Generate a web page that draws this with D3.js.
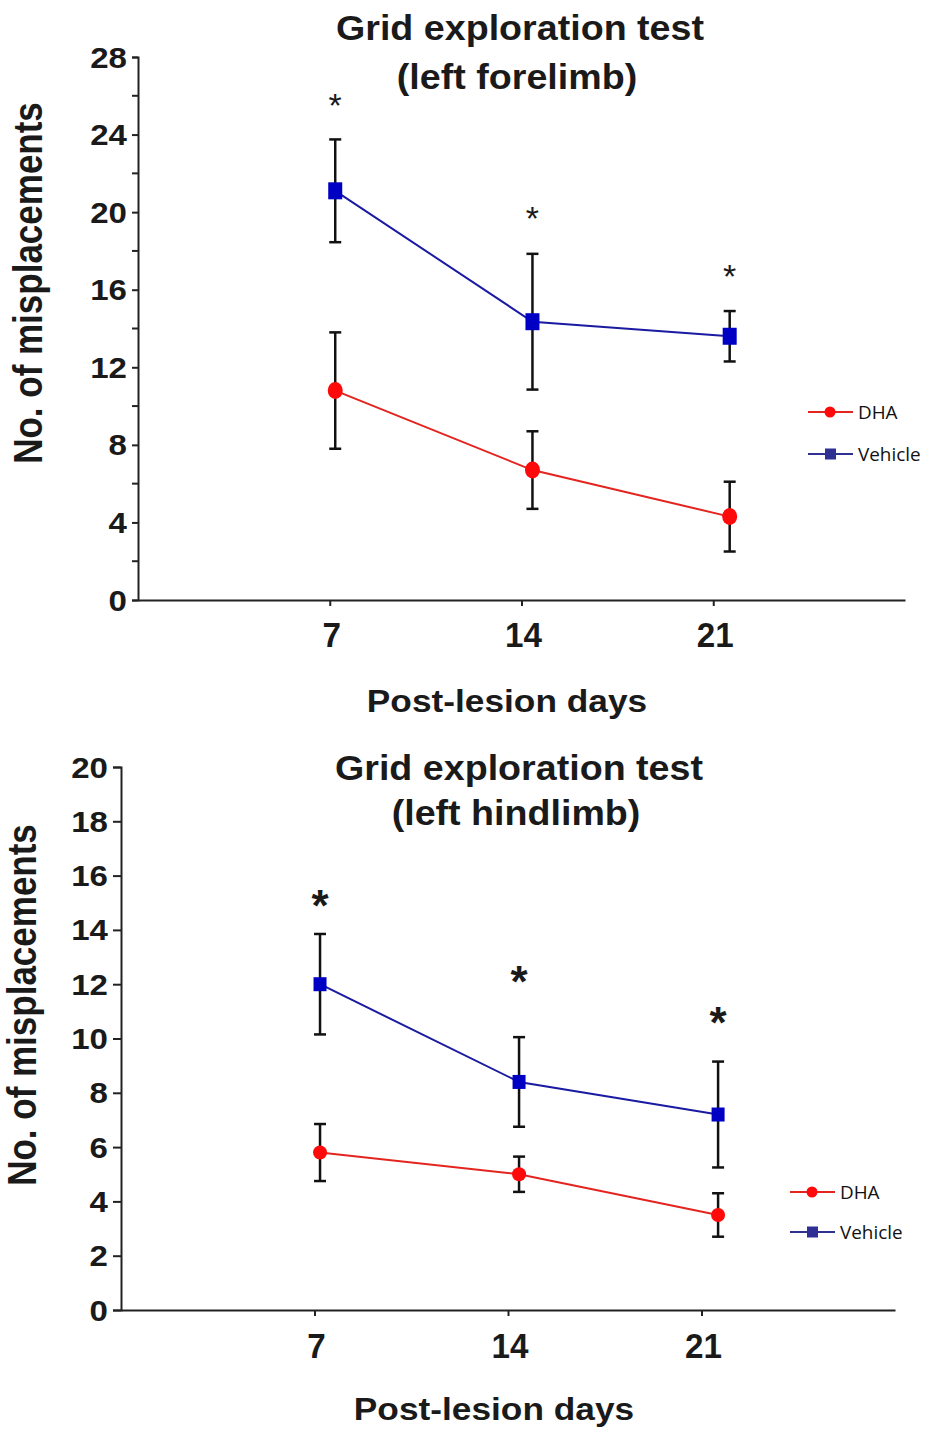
<!DOCTYPE html>
<html>
<head>
<meta charset="utf-8">
<script src="https://cdn.jsdelivr.net/npm/d3@7"></script>
<style>
  body { margin: 0; background: #fff; }
  svg { display: block; }
</style>
</head>
<body>
<div id="chart"></div>
<script>
// values
const days = [7, 14, 21];
const dayPos = [7.2, 14.4, 21.6];   // markers sit a little right of the ticks

const foreDHA = [10.8, 6.7, 4.3];
const foreDHAErr = [3.0, 2.0, 1.8];
const foreVehicle = [21.1, 14.35, 13.6];
const foreVehicleErr = [2.65, 3.5, 1.3];
const foreStars = [25.9, 20.1, 17.1];
const foreTicks = [0, 4, 8, 12, 16, 20, 24, 28];
const foreMinor = [2, 6, 10, 14, 18, 22, 26];

const hindDHA = [5.8, 5.0, 3.5];
const hindDHAErr = [1.05, 0.65, 0.8];
const hindVehicle = [12.0, 8.4, 7.2];
const hindVehicleErr = [1.85, 1.65, 1.95];
const hindStars = [15.25, 12.45, 10.95];
const hindTicks = [0, 2, 4, 6, 8, 10, 12, 14, 16, 18, 20];

const seriesNames = ['DHA', 'Vehicle'];

const RED = '#ff0a0a', RED_LINE = '#e3241f';
const BLUE = '#0000c4', BLUE_LINE = '#1a1aa2', BLUE_LEG = '#2e3192';
const BOLD = '"Liberation Sans", Arial, sans-serif';

const svg = d3.select('#chart').append('svg')
    .attr('width', 933)
    .attr('height', 1429);

// text that can be stretched sideways like the source picture
const label = (g, x, y, str, o) => {
    return g.append('text')
        .attr('transform', `translate(${x},${y}) ${o.rot ? 'rotate(-90) scale(1,' + o.sx + ')' : 'scale(' + o.sx + ',1)'}`)
        .attr('text-anchor', o.anchor || 'middle')
        .style('font-family', o.family || BOLD)
        .style('font-weight', o.weight || 'bold')
        .style('font-size', o.size + 'px')
        .style('fill', o.fill || '#1a1a1a')
        .text(str);
};

const drawPanel = (p) => {
    let g = svg.append('g');
    let x = d3.scaleLinear().domain([0, 28]).range([p.left, p.right]);
    let y = d3.scaleLinear().domain([0, p.ticks[p.ticks.length - 1]]).range([p.bottom, p.top]);

    // y axis
    let yAxis = d3.axisLeft(y).tickValues(p.ticks).tickSize(p.tick).tickFormat('');
    let ya = g.append('g').attr('transform', `translate(${p.left},0)`).call(yAxis);
    if (p.minor) {
        ya.selectAll('.minor').data(p.minor).enter().append('line')
            .attr('class', 'minor')
            .attr('x1', -p.tick).attr('x2', 0)
            .attr('y1', d => y(d)).attr('y2', d => y(d));
    }
    // x axis
    let xAxis = d3.axisBottom(x).tickValues(days).tickSize(6).tickSizeOuter(0).tickFormat('');
    let xa = g.append('g').attr('transform', `translate(0,${p.bottom})`).call(xAxis);
    [ya, xa].forEach(a => {
        a.select('.domain').attr('stroke', '#222').attr('stroke-width', 2);
        a.selectAll('line').attr('stroke', '#222').attr('stroke-width', 2);
    });

    p.ticks.forEach(t => label(g, p.labelRight, y(t) + 10.5, t, { size: 29.5, sx: 1.12, anchor: 'end' }));
    days.forEach(d => label(g, x(d) + 2, p.xTickBase, d, { size: 35, sx: 0.95 }));

    // titles
    label(g, p.titleX, p.titleY[0], 'Grid exploration test', { size: 35.5, sx: 1.06 });
    label(g, p.titleX - 3, p.titleY[1], p.subtitle, { size: 35.5, sx: 1.06 });
    label(g, p.xLabel[0], p.xLabel[1], 'Post-lesion days', { size: 31.5, sx: 1.12 });
    label(g, p.yLabel[0], p.yLabel[1], 'No. of misplacements', { size: 35, sx: 1.15, rot: true });

    let line = d3.line().x((d, i) => x(dayPos[i])).y(d => y(d));

    // error bars
    let bars = (vals, errs) => {
        vals.forEach((v, i) => {
            let cx = x(dayPos[i]);
            g.append('line').attr('x1', cx).attr('x2', cx)
                .attr('y1', y(v - errs[i])).attr('y2', y(v + errs[i]))
                .attr('stroke', '#111').attr('stroke-width', 2.5);
            [v - errs[i], v + errs[i]].forEach(e => {
                g.append('line').attr('x1', cx - 6).attr('x2', cx + 6)
                    .attr('y1', y(e)).attr('y2', y(e))
                    .attr('stroke', '#111').attr('stroke-width', 2.5);
            });
        });
    };
    bars(p.dha, p.dhaErr);
    bars(p.veh, p.vehErr);

    g.append('path').datum(p.dha).attr('d', line)
        .attr('fill', 'none').attr('stroke', RED_LINE).attr('stroke-width', 2);
    g.append('path').datum(p.veh).attr('d', line)
        .attr('fill', 'none').attr('stroke', BLUE_LINE).attr('stroke-width', 2);

    g.selectAll('.dha').data(p.dha).enter().append('ellipse')
        .attr('cx', (d, i) => x(dayPos[i])).attr('cy', d => y(d))
        .attr('rx', p.mark[0] / 2).attr('ry', p.mark[1] / 2)
        .attr('fill', RED);
    g.selectAll('.veh').data(p.veh).enter().append('rect')
        .attr('x', (d, i) => x(dayPos[i]) - p.mark[0] / 2 + 0.5)
        .attr('y', d => y(d) - p.mark[1] / 2)
        .attr('width', p.mark[0] - 1).attr('height', p.mark[1])
        .attr('fill', BLUE);

    // significance stars
    p.stars.forEach((s, i) => {
        label(g, x(dayPos[i]), y(s) + p.starSize * 0.57, '*',
            { size: p.starSize, sx: 1.0, weight: p.starWeight });
    });

    // legend
    seriesNames.forEach((name, i) => {
        let ly = p.legend[1] + i * p.legendGap;
        let lx = p.legend[0];
        g.append('line').attr('x1', lx).attr('x2', lx + 45).attr('y1', ly).attr('y2', ly)
            .attr('stroke', i === 0 ? RED_LINE : BLUE_LEG).attr('stroke-width', 2);
        if (i === 0) {
            g.append('circle').attr('cx', lx + 22).attr('cy', ly).attr('r', 5.5).attr('fill', RED);
        } else {
            g.append('rect').attr('x', lx + 17).attr('y', ly - 5.5).attr('width', 11).attr('height', 11)
                .attr('fill', BLUE_LEG);
        }
        label(g, lx + 50, ly + 6.5, name,
            { size: 18, sx: 1.05, anchor: 'start', weight: 'normal', family: '"Open Sans", sans-serif', fill: '#111' });
    });
};

drawPanel({
    left: 138, right: 905, top: 57, bottom: 600, tick: 6,
    ticks: foreTicks, minor: foreMinor, labelRight: 127, xTickBase: 647,
    titleX: 520, titleY: [40, 89], subtitle: '(left forelimb)',
    xLabel: [507, 712], yLabel: [42, 283],
    dha: foreDHA, dhaErr: foreDHAErr, veh: foreVehicle, vehErr: foreVehicleErr,
    stars: foreStars, starSize: 34, starWeight: 'normal',
    mark: [15, 17], legend: [808, 412], legendGap: 42
});

drawPanel({
    left: 121, right: 895, top: 767, bottom: 1310, tick: 8,
    ticks: hindTicks, minor: null, labelRight: 108, xTickBase: 1358,
    titleX: 519, titleY: [780, 825], subtitle: '(left hindlimb)',
    xLabel: [494, 1420], yLabel: [36, 1005],
    dha: hindDHA, dhaErr: hindDHAErr, veh: hindVehicle, vehErr: hindVehicleErr,
    stars: hindStars, starSize: 44, starWeight: 'bold',
    mark: [14, 14], legend: [790, 1192], legendGap: 40
});
</script>
</body>
</html>
